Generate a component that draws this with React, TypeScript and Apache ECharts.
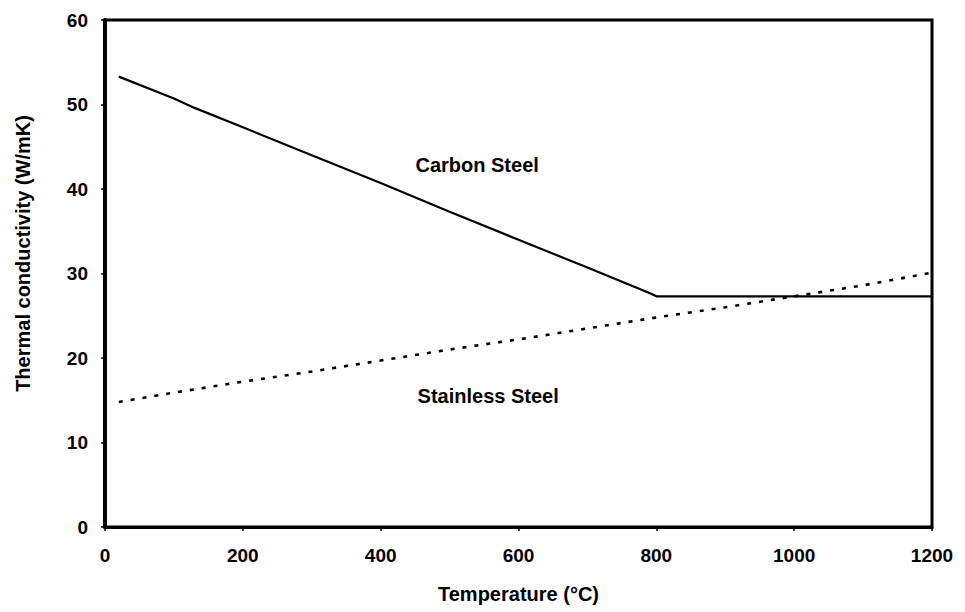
import React, { useEffect, useRef } from "react";
import * as echarts from "echarts";

const carbonTemp = [20, 100, 130, 200, 300, 400, 500, 600, 700, 790, 800, 1200];
const carbonK = [53.3, 50.7, 49.6, 47.3, 44.0, 40.7, 37.3, 34.0, 30.7, 27.7, 27.3, 27.3];
const stainlessTemp = [20, 100, 200, 300, 400, 500, 600, 700, 800, 900, 1000, 1100, 1200];
const stainlessK = [14.8, 15.9, 17.2, 18.4, 19.7, 21.0, 22.2, 23.5, 24.8, 26.0, 27.3, 28.6, 30.1];
const xTicks = [0, 200, 400, 600, 800, 1000, 1200];
const yTicks = [0, 10, 20, 30, 40, 50, 60];
const labelNames = ["Carbon Steel", "Stainless Steel"];
const labelTemp = [540, 556];
const labelK = [42.8, 15.5];

const FONT = "'Liberation Sans', Arial, Helvetica, sans-serif";

export default function App() {
  const ref = useRef<HTMLDivElement>(null);
  useEffect(() => {
    if (!ref.current) return;
    const chart = echarts.init(ref.current, undefined, { renderer: "svg" });
    chart.setOption({
      animation: false,
      backgroundColor: "#fff",
      grid: {
        left: 105,
        right: 33,
        top: 20,
        bottom: 85,
        show: true,
        borderColor: "#000",
        borderWidth: 3,
      },
      xAxis: {
        type: "value",
        min: xTicks[0],
        max: xTicks[xTicks.length - 1],
        interval: 200,
        name: "Temperature (°C)",
        nameLocation: "middle",
        nameGap: 57,
        nameTextStyle: { color: "#000", fontFamily: FONT, fontSize: 20, fontWeight: "bold" },
        axisLine: { show: true, lineStyle: { color: "#000", width: 3 } },
        axisTick: { show: true, length: 4, lineStyle: { color: "#000", width: 1.5 } },
        axisLabel: {
          color: "#000",
          fontFamily: FONT,
          fontSize: 19,
          fontWeight: "bold",
          margin: 19,
          formatter: (v: number) => String(v),
        },
        splitLine: { show: false },
      },
      yAxis: {
        type: "value",
        min: yTicks[0],
        max: yTicks[yTicks.length - 1],
        interval: 10,
        name: "Thermal conductivity (W/mK)",
        nameLocation: "middle",
        nameGap: 72,
        nameTextStyle: {
          color: "#000",
          fontFamily: FONT,
          fontSize: 20,
          fontWeight: "bold",
          padding: [0, 0, 0, 40],
        },
        axisLine: { show: true, lineStyle: { color: "#000", width: 4 } },
        axisTick: { show: true, length: 4, lineStyle: { color: "#000", width: 1.5 } },
        axisLabel: {
          color: "#000",
          fontFamily: FONT,
          fontSize: 19,
          fontWeight: "bold",
          margin: 17,
          formatter: (v: number) => String(v),
        },
        splitLine: { show: false },
      },
      series: [
        {
          name: "Carbon Steel",
          type: "line",
          data: carbonTemp.map((t, i) => [t, carbonK[i]]),
          showSymbol: false,
          symbol: "none",
          lineStyle: { color: "#000", width: 2.2 },
        },
        {
          name: "Stainless Steel",
          type: "line",
          data: stainlessTemp.map((t, i) => [t, stainlessK[i]]),
          showSymbol: false,
          symbol: "none",
          lineStyle: { color: "#000", width: 2.6, type: [4, 8] },
        },
        {
          name: "labels",
          type: "scatter",
          symbolSize: 1,
          itemStyle: { color: "rgba(0,0,0,0)" },
          data: labelNames.map((n, i) => ({ name: n, value: [labelTemp[i], labelK[i]] })),
          label: {
            show: true,
            position: "inside",
            formatter: (p: any) => p.name,
            color: "#000",
            opacity: 1,
            textBorderWidth: 0,
            textBorderColor: "transparent",
            fontFamily: FONT,
            fontSize: 20,
            fontWeight: "bold",
          },
          silent: true,
        },
      ],
    });
    return () => chart.dispose();
  }, []);
  return <div ref={ref} style={{ width: 965, height: 612, position: "absolute", left: 0, top: 0 }} />;
}
